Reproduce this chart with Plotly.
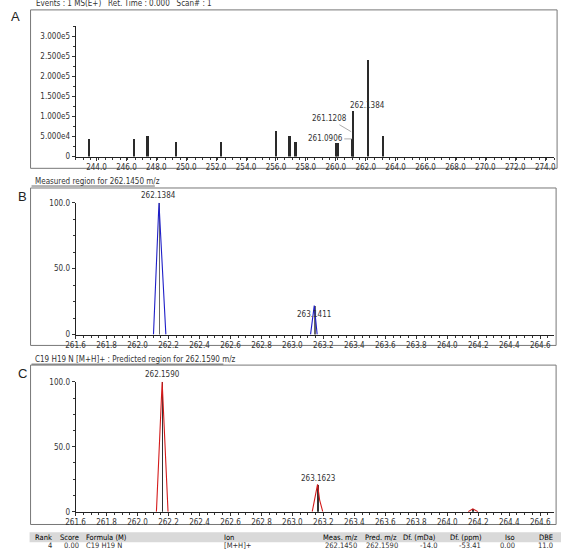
import plotly.graph_objects as go

W, H = 563, 560
FONT = "Liberation Sans Narrow, DejaVu Sans Condensed, Liberation Sans, Arial"

# ---------------- data ----------------
# Panel A: MS centroid spectrum
mz_A = [243.5, 246.5, 247.4, 249.3, 252.3, 256.0, 256.9, 257.3, 260.0, 260.1, 261.09, 261.12, 262.1384, 263.14]
int_A = [44000, 44000, 53000, 38000, 38000, 64000, 53000, 37000, 35000, 35000, 44000, 115000, 241000, 53000]
ticks_A_x = [244.0 + 2 * i for i in range(16)]
ticks_A_y = [0, 50000, 100000, 150000, 200000, 250000, 300000]
ticktext_A_y = ["0", "5.000e4", "1.000e5", "1.500e5", "2.000e5", "2.500e5", "3.000e5"]

# Panel B: measured profile (blue) and centroids
prof_B_x = [262.103, 262.1384, 262.183, None, 263.117, 263.1411, 263.16]
prof_B_y = [0, 100, 0, None, 0, 22, 0]
cent_B_x = [262.1384, 263.1411]
cent_B_y = [100, 22]

# Panel C: predicted profile (red) and centroids
prof_C_x = [262.122, 262.159, 262.197, None, 263.128, 263.1623, 263.176, 263.196, None, 264.135, 264.165, 264.198]
prof_C_y = [0, 100, 0, None, 0, 21, 9, 0, None, 0, 2.2, 0]
cent_C_x = [262.159, 263.1623, 264.165]
cent_C_y = [100, 21, 2.2]

ticks_BC_x = [round(261.6 + 0.2 * i, 1) for i in range(16)]
ticks_BC_y = [0, 50, 100]
ticktext_BC_y = ["0", "50.0", "100.0"]

# Table
tbl_headers = ["Rank", "Score", "Formula (M)", "Ion", "Meas. m/z", "Pred. m/z", "Df. (mDa)", "Df. (ppm)", "Iso", "DBE"]
tbl_values = ["4", "0.00", "C19 H19 N", "[M+H]+", "262.1450", "262.1590", "-14.0", "-53.41", "0.00", "11.0"]

# ---------------- helpers ----------------
def fx(p):
    return p / W

def fy(p):
    return 1 - p / H

fig = go.Figure()

fig.add_trace(go.Bar(x=mz_A, y=int_A, width=0.13, marker=dict(color="#2a2a2a", line=dict(width=0)),
                     xaxis="x", yaxis="y", showlegend=False))

fig.add_trace(go.Bar(x=cent_B_x, y=cent_B_y, width=0.005, marker=dict(color="#666666", line=dict(width=0)),
                     xaxis="x2", yaxis="y2", showlegend=False))
fig.add_trace(go.Scatter(x=prof_B_x, y=prof_B_y, mode="lines", line=dict(color="#1f1fc8", width=1.1),
                         xaxis="x2", yaxis="y2", showlegend=False, connectgaps=False))

fig.add_trace(go.Bar(x=cent_C_x, y=cent_C_y, width=0.005, marker=dict(color="#333333", line=dict(width=0)),
                     xaxis="x3", yaxis="y3", showlegend=False))
fig.add_trace(go.Scatter(x=prof_C_x, y=prof_C_y, mode="lines", line=dict(color="#d41a1a", width=1.1),
                         xaxis="x3", yaxis="y3", showlegend=False, connectgaps=False))

tickfont = dict(family=FONT, size=8, color="#333333")
xdom = [fx(67), fx(556)]

def xax(rng, tv, fmt, minor):
    return dict(domain=xdom, range=rng, tickvals=tv, ticktext=[fmt.format(v) for v in tv],
                ticks="outside", ticklen=3, tickcolor="#333", tickwidth=1,
                minor=dict(dtick=minor, ticks="outside", ticklen=2, tickcolor="#333", tick0=rng[0]),
                showline=True, linecolor="#222", linewidth=1, showgrid=False, zeroline=False,
                tickfont=tickfont, fixedrange=True)

def yax(dom, rng, tv, tt, anchor, minor):
    return dict(domain=dom, range=rng, tickvals=tv, ticktext=tt, anchor=anchor,
                ticks="outside", ticklen=3, tickcolor="#333", tickwidth=1,
                minor=dict(dtick=minor, ticks="outside", ticklen=2, tickcolor="#333"),
                showline=True, linecolor="#222", linewidth=1, showgrid=False, zeroline=False,
                tickfont=tickfont, fixedrange=True)

fig.update_layout(
    width=W, height=H, margin=dict(l=0, r=0, t=0, b=0),
    paper_bgcolor="white", plot_bgcolor="white",
    bargap=0,
    xaxis=dict(**xax([242.6, 274.6], ticks_A_x, "{:.1f}", 0.5), anchor="y"),
    yaxis=yax([fy(155), fy(22)], [0, 327000], ticks_A_y, ticktext_A_y, "x", 25000),
    xaxis2=dict(**xax([261.6, 264.69], ticks_BC_x, "{:.1f}", 0.05), anchor="y2"),
    yaxis2=yax([fy(336), fy(202)], [0, 100], ticks_BC_y, ticktext_BC_y, "x2", 12.5),
    xaxis3=dict(**xax([261.6, 264.69], ticks_BC_x, "{:.1f}", 0.05), anchor="y3"),
    yaxis3=yax([fy(516), fy(384)], [0, 100], ticks_BC_y, ticktext_BC_y, "x3", 12.5),
)

shapes = []
# panel frames
for (x0, y0, x1, y1) in [(21, 6, 559, 167), (21, 187, 558, 347), (21, 367, 558, 529)]:
    shapes.append(dict(type="rect", xref="paper", yref="paper", x0=fx(x0), x1=fx(x1), y0=fy(y1), y1=fy(y0),
                       line=dict(color="#777777", width=1), fillcolor="rgba(0,0,0,0)", layer="below"))
# header underlines
shapes.append(dict(type="line", xref="paper", yref="paper", x0=fx(22), x1=fx(148), y0=fy(185), y1=fy(185),
                   line=dict(color="#444", width=0.8)))
shapes.append(dict(type="line", xref="paper", yref="paper", x0=fx(22), x1=fx(218), y0=fy(366), y1=fy(366),
                   line=dict(color="#444", width=0.8)))
# table header band
shapes.append(dict(type="rect", xref="paper", yref="paper", x0=fx(20), x1=fx(563), y0=fy(547), y1=fy(537),
                   line=dict(width=0), fillcolor="#d9d9d9", layer="below"))
fig.update_layout(shapes=shapes)

ann = []
small = dict(family=FONT, size=8, color="#333333")

def txt(x, y, s, size=8, anchor="center", color="#333333", fam=FONT):
    ann.append(dict(x=fx(x), y=fy(y), xref="paper", yref="paper", text=s, showarrow=False,
                    xanchor=anchor, yanchor="middle", font=dict(family=fam, size=size, color=color)))

# top header (cut off at the top edge, as in the reference)
txt(25, -1, "Events : 1 MS(E+)   Ret. Time : 0.000   Scan# : 1", anchor="left")
# panel letters
txt(6, 13, "A", size=13, color="#222", fam="Liberation Sans, Arial")
txt(13, 196, "B", size=13, color="#222", fam="Liberation Sans, Arial")
txt(13, 376, "C", size=13, color="#222", fam="Liberation Sans, Arial")
# panel headers
txt(23, 180, "Measured region for 262.1450 m/z", anchor="left")
txt(23, 361, "C19 H19 N [M+H]+ : Predicted region for 262.1590 m/z", anchor="left")

# peak labels (data coordinates)
def plab(xr, yr, x, y, s, yshift=7):
    ann.append(dict(x=x, y=y, xref=xr, yref=yr, text=s, showarrow=False, yshift=yshift,
                    font=small, xanchor="center", yanchor="middle"))

plab("x", "y", mz_A[12], int_A[12], "262.1384", yshift=-45)
plab("x2", "y2", cent_B_x[0], cent_B_y[0], "262.1384", yshift=7)
plab("x2", "y2", cent_B_x[1], cent_B_y[1], "263.1411", yshift=-9)
plab("x3", "y3", cent_C_x[0], cent_C_y[0], "262.1590", yshift=7)
plab("x3", "y3", cent_C_x[1], cent_C_y[1], "263.1623", yshift=6)

# leader-line labels in A
ann.append(dict(x=261.03, y=62000, xref="x", yref="y", text="261.1208", showarrow=True, arrowhead=0,
                arrowwidth=0.7, arrowcolor="#888", ax=-22, ay=-13, font=small, standoff=0))
ann.append(dict(x=261.1, y=44000, xref="x", yref="y", text="261.0906", showarrow=True, arrowhead=0,
                arrowwidth=0.7, arrowcolor="#888", ax=-27, ay=0, font=small, standoff=0))

# table
hdr_pos = [(45, "right"), (73, "right"), (76, "left"), (217, "left"), (358, "right"), (397, "right"),
           (437, "right"), (484, "right"), (518, "right"), (557, "right")]
val_pos = [(45, "right"), (73, "right"), (76, "left"), (217, "left"), (357, "right"), (398, "right"),
           (438, "right"), (483, "right"), (518, "right"), (557, "right")]
for (x, a), s in zip(hdr_pos, tbl_headers):
    txt(x, 542, s, size=7.5, anchor=a, color="#000")
for (x, a), s in zip(val_pos, tbl_values):
    txt(x, 550, s, size=7.5, anchor=a, color="#333")

fig.update_layout(annotations=ann)
fig.write_html("out.html")
